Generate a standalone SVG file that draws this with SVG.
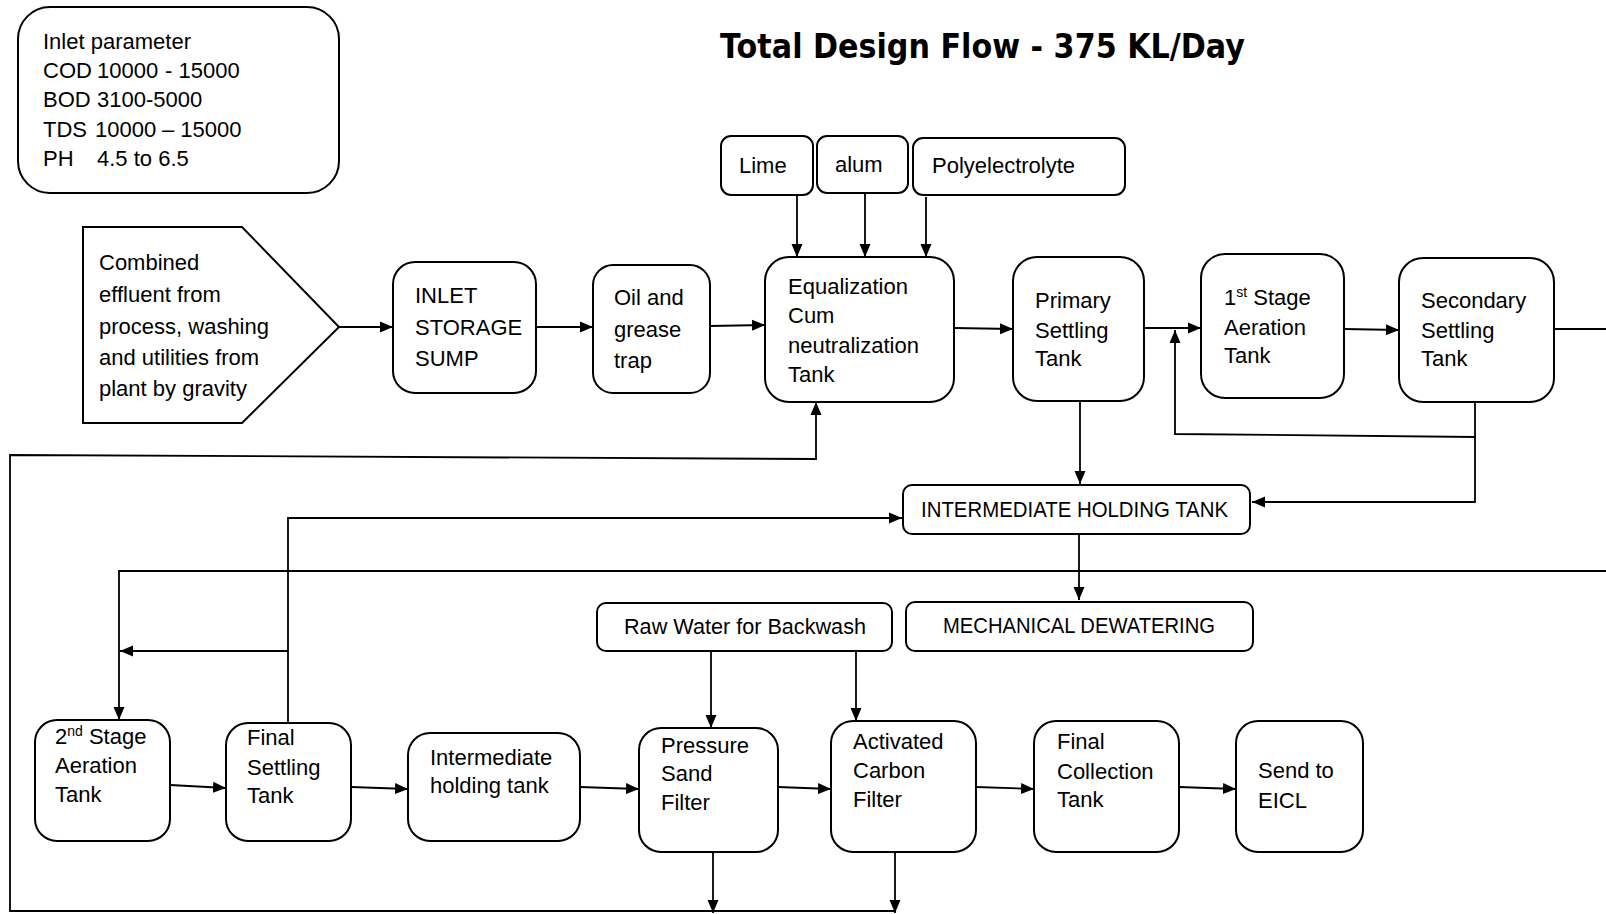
<svg xmlns="http://www.w3.org/2000/svg" width="1606" height="914" viewBox="0 0 1606 914">
<defs>
<marker id="ah" markerUnits="userSpaceOnUse" markerWidth="14" markerHeight="12" refX="13" refY="6" orient="auto">
<path d="M0,0.5 L13,6 L0,11.5 z" fill="#000"/>
</marker>
<style>
.box{fill:#fff;stroke:#000;stroke-width:2}
.t{font-family:"Liberation Sans",Arial,sans-serif;font-size:22px;fill:#000}
.c{fill:none;stroke:#000;stroke-width:1.8}
.a{fill:none;stroke:#000;stroke-width:1.8;marker-end:url(#ah)}
.sup{font-size:14px}
</style>
</defs>
<rect width="1606" height="914" fill="#fff"/>

<text x="720" y="58" font-family="'DejaVu Sans',Verdana,sans-serif" font-weight="bold" font-size="33" textLength="525" lengthAdjust="spacingAndGlyphs">Total Design Flow - 375 KL/Day</text>

<g id="connectors">
<path class="a" d="M339,327 H393"/>
<path class="a" d="M536,327 H593"/>
<path class="a" d="M710,326 L765,325"/>
<path class="a" d="M954,328 L1013,329"/>
<path class="a" d="M1144,328 H1201"/>
<path class="a" d="M1344,329 L1399,330"/>
<path class="c" d="M1554,329 H1606"/>
<path class="a" d="M797,195 V257"/>
<path class="a" d="M865,193 V257"/>
<path class="a" d="M926,197 V257"/>
<path class="a" d="M1080,401 V484"/>
<path class="a" d="M1475,402 V502 H1252"/>
<path class="a" d="M1475,437 L1175,434 V330"/>
<path class="a" d="M1079,534 V600"/>
<path class="a" d="M895,911 H10 V455 L816,459 V402"/>
<path class="a" d="M713,852 V913"/>
<path class="a" d="M895,852 V913"/>
<path class="a" d="M1606,571 H119 V720"/>
<path class="a" d="M288,723 V518 H902"/>
<path class="a" d="M288,651 H120"/>
<path class="a" d="M711,651 V728"/>
<path class="a" d="M856,651 V721"/>
<path class="a" d="M170,785 L226,788"/>
<path class="a" d="M351,787 L408,789"/>
<path class="a" d="M580,787 L639,789"/>
<path class="a" d="M778,787 L831,789"/>
<path class="a" d="M976,787 L1034,789"/>
<path class="a" d="M1179,787 L1236,789"/>
</g>

<g id="inlet-parameter">
<rect class="box" x="18" y="7" width="321" height="186" rx="32"/>
<text class="t" x="43" y="49">Inlet parameter</text>
<text class="t" y="78"><tspan x="43">COD</tspan><tspan x="97">10000</tspan><tspan x="165">- 15000</tspan></text>
<text class="t" y="107"><tspan x="43">BOD</tspan><tspan x="97">3100-5000</tspan></text>
<text class="t" y="137"><tspan x="43">TDS</tspan><tspan x="95">10000</tspan><tspan x="162">– 15000</tspan></text>
<text class="t" y="166"><tspan x="43">PH</tspan><tspan x="97">4.5 to 6.5</tspan></text>
</g>

<g id="source">
<path class="box" d="M83,227 H242 L339,327 L242,423 H83 Z"/>
<text class="t" x="99" y="270">Combined</text>
<text class="t" x="99" y="302">effluent from</text>
<text class="t" x="99" y="334">process, washing</text>
<text class="t" x="99" y="365">and utilities from</text>
<text class="t" x="99" y="396">plant by gravity</text>
</g>

<g id="inlet-sump">
<rect class="box" x="393" y="262" width="143" height="131" rx="22"/>
<text class="t" x="415" y="303">INLET</text>
<text class="t" x="415" y="335">STORAGE</text>
<text class="t" x="415" y="366">SUMP</text>
</g>

<g id="oil-grease">
<rect class="box" x="593" y="265" width="117" height="128" rx="20"/>
<text class="t" x="614" y="305">Oil and</text>
<text class="t" x="614" y="337">grease</text>
<text class="t" x="614" y="368">trap</text>
</g>

<g id="lime">
<rect class="box" x="721" y="136" width="92" height="59" rx="10"/>
<text class="t" x="739" y="173">Lime</text>
</g>
<g id="alum">
<rect class="box" x="817" y="136" width="91" height="57" rx="10"/>
<text class="t" x="835" y="172">alum</text>
</g>
<g id="polyelectrolyte">
<rect class="box" x="913" y="138" width="212" height="57" rx="10"/>
<text class="t" x="932" y="173">Polyelectrolyte</text>
</g>

<g id="equalization">
<rect class="box" x="765" y="257" width="189" height="145" rx="24"/>
<text class="t" x="788" y="294">Equalization</text>
<text class="t" x="788" y="323">Cum</text>
<text class="t" x="788" y="353">neutralization</text>
<text class="t" x="788" y="382">Tank</text>
</g>

<g id="primary-settling">
<rect class="box" x="1013" y="257" width="131" height="144" rx="24"/>
<text class="t" x="1035" y="308">Primary</text>
<text class="t" x="1035" y="338">Settling</text>
<text class="t" x="1035" y="366">Tank</text>
</g>

<g id="first-aeration">
<rect class="box" x="1201" y="254" width="143" height="144" rx="24"/>
<text class="t" x="1224" y="305">1<tspan class="sup" dy="-8">st</tspan><tspan dy="8"> Stage</tspan></text>
<text class="t" x="1224" y="335">Aeration</text>
<text class="t" x="1224" y="363">Tank</text>
</g>

<g id="secondary-settling">
<rect class="box" x="1399" y="258" width="155" height="144" rx="24"/>
<text class="t" x="1421" y="308">Secondary</text>
<text class="t" x="1421" y="338">Settling</text>
<text class="t" x="1421" y="366">Tank</text>
</g>

<g id="intermediate-holding-tank">
<rect class="box" x="903" y="485" width="347" height="49" rx="9"/>
<text class="t" x="921" y="517" textLength="307" lengthAdjust="spacingAndGlyphs">INTERMEDIATE HOLDING TANK</text>
</g>

<g id="mechanical-dewatering">
<rect class="box" x="906" y="602" width="347" height="49" rx="9"/>
<text class="t" x="943" y="633" textLength="272" lengthAdjust="spacingAndGlyphs">MECHANICAL DEWATERING</text>
</g>

<g id="raw-water">
<rect class="box" x="597" y="603" width="295" height="48" rx="9"/>
<text class="t" x="624" y="634" textLength="242" lengthAdjust="spacingAndGlyphs">Raw Water for Backwash</text>
</g>

<g id="second-aeration">
<rect class="box" x="35" y="720" width="135" height="121" rx="22"/>
<text class="t" x="55" y="744">2<tspan class="sup" dy="-8">nd</tspan><tspan dy="8"> Stage</tspan></text>
<text class="t" x="55" y="773">Aeration</text>
<text class="t" x="55" y="802">Tank</text>
</g>

<g id="final-settling">
<rect class="box" x="226" y="723" width="125" height="118" rx="22"/>
<text class="t" x="247" y="745">Final</text>
<text class="t" x="247" y="775">Settling</text>
<text class="t" x="247" y="803">Tank</text>
</g>

<g id="intermediate-holding-small">
<rect class="box" x="408" y="733" width="172" height="108" rx="22"/>
<text class="t" x="430" y="765">Intermediate</text>
<text class="t" x="430" y="793">holding tank</text>
</g>

<g id="pressure-sand-filter">
<rect class="box" x="639" y="728" width="139" height="124" rx="22"/>
<text class="t" x="661" y="753">Pressure</text>
<text class="t" x="661" y="781">Sand</text>
<text class="t" x="661" y="810">Filter</text>
</g>

<g id="activated-carbon-filter">
<rect class="box" x="831" y="721" width="145" height="131" rx="22"/>
<text class="t" x="853" y="749">Activated</text>
<text class="t" x="853" y="778">Carbon</text>
<text class="t" x="853" y="807">Filter</text>
</g>

<g id="final-collection">
<rect class="box" x="1034" y="721" width="145" height="131" rx="22"/>
<text class="t" x="1057" y="749">Final</text>
<text class="t" x="1057" y="779">Collection</text>
<text class="t" x="1057" y="807">Tank</text>
</g>

<g id="send-to-eicl">
<rect class="box" x="1236" y="721" width="127" height="131" rx="22"/>
<text class="t" x="1258" y="778">Send to</text>
<text class="t" x="1258" y="808">EICL</text>
</g>
</svg>
